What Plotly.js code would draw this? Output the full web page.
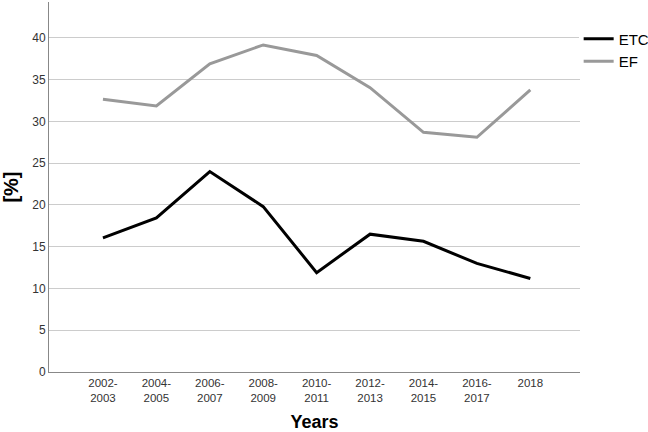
<!DOCTYPE html>
<html>
<head>
<meta charset="utf-8">
<script src="https://cdn.plot.ly/plotly-3.0.1.min.js"></script>
<style>html,body{margin:0;padding:0;background:#fff;}#chart{width:648px;height:432px;}</style>
</head>
<body>
<div id="chart"></div>
<script>
var categories = ["2002-<br>2003","2004-<br>2005","2006-<br>2007","2008-<br>2009","2010-<br>2011","2012-<br>2013","2014-<br>2015","2016-<br>2017","2018"];
var etcValues = [16.05, 18.44, 24.0, 19.8, 11.9, 16.5, 15.65, 13.0, 11.2];
var efValues = [32.66, 31.86, 36.9, 39.16, 37.9, 34.05, 28.7, 28.1, 33.77];
var yTicks = [0,5,10,15,20,25,30,35,40];

var idx = categories.map(function(_, i){ return i; });

var traces = [
  {x: idx, y: etcValues, name: "ETC", type: "scatter", mode: "lines",
   line: {color: "#000000", width: 3}},
  {x: idx, y: efValues, name: "EF", type: "scatter", mode: "lines",
   line: {color: "#999999", width: 3}}
];

var layout = {
  width: 648, height: 432,
  margin: {l: 49, r: 68, t: 2, b: 60, autoexpand: false},
  paper_bgcolor: "#ffffff", plot_bgcolor: "#ffffff",
  font: {family: "Arial, Liberation Sans, sans-serif", color: "#333333", size: 12},
  showlegend: true,
  legend: {xref: "container", yref: "container", x: 0.893, y: 0.948, xanchor: "left", yanchor: "top",
           font: {size: 15, color: "#000000"}, tracegroupgap: 0, itemwidth: 30},
  xaxis: {
    range: [-1.01, 8.93], tickvals: idx, ticktext: categories,
    showgrid: false, zeroline: false, showline: true, linecolor: "#888888", linewidth: 1,
    ticks: "", tickfont: {size: 11.5, color: "#333333"},
    title: {text: "<b>Years</b>", font: {size: 18, color: "#000000"}, standoff: 13}
  },
  yaxis: {
    range: [0, 44.3], tickvals: yTicks,
    showgrid: true, gridcolor: "#cccccc", gridwidth: 1,
    zeroline: false, showline: true, linecolor: "#888888", linewidth: 1,
    ticks: "", tickfont: {size: 12, color: "#333333"},
    title: {text: "<b>[%]</b>", font: {size: 20, color: "#000000"}, standoff: 8}
  }
};

Plotly.newPlot("chart", traces, layout, {displayModeBar: false, staticPlot: true});
</script>
</body>
</html>
